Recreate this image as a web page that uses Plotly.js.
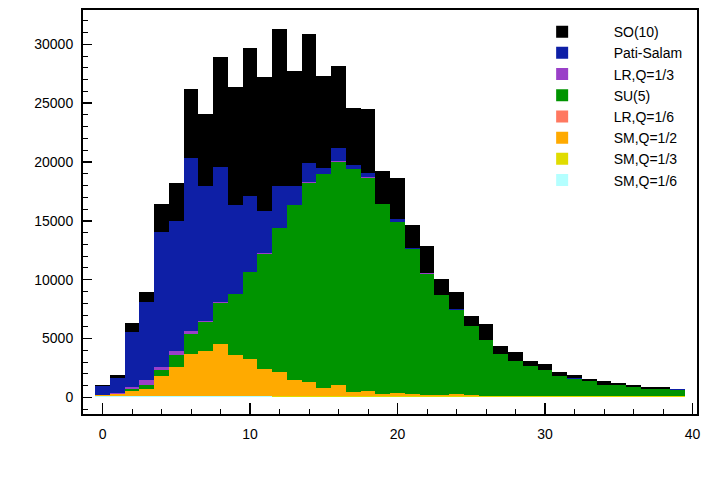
<!DOCTYPE html>
<html>
<head>
<meta charset="utf-8">
<script src="https://cdn.plot.ly/plotly-3.0.1.min.js"></script>
<style>html,body{margin:0;padding:0;background:#fff;}#chart{width:708px;height:500px;}</style>
</head>
<body>
<div id="chart"></div>
<script>
// bin centres 0..39, width 1
const bins = Array.from({length: 40}, (_, i) => i);

const smQ16 = [80,80,80,80,80,80,80,80,80,80,80,80,5,5,5,5,5,5,5,5,5,5,5,5,5,5,5,5,5,5,5,5,5,5,5,5,5,5,5,5];
const smQ13 = [10,10,10,10,10,10,10,10,10,10,10,10,80,80,80,80,80,80,80,80,80,80,80,80,80,80,80,80,80,80,80,80,80,80,80,80,80,80,80,80];
const smQ12 = [110,165,420,650,1750,2490,3590,3815,4410,3535,3195,2345,2065,1355,1220,710,930,395,455,225,310,165,140,115,200,80,55,30,30,30,20,15,10,10,5,5,0,0,0,0];
const lrQ16 = [0,5,10,15,15,15,15,10,10,10,5,5,5,5,5,5,0,0,0,0,0,0,0,0,0,0,0,0,0,0,0,0,0,0,0,0,0,0,0,0];
const su5 = [10,20,170,314,509,1045,1724,2495,3513,5119,7360,9763,12227,14915,16943,18162,19016,18931,18134,16101,14542,12394,10298,8489,7156,5917,4695,3565,2996,2572,2182,1712,1500,1258,983,955,760,630,610,570];
const lrQ13 = [20,100,204,391,229,314,254,60,85,40,30,25,20,15,15,10,10,10,10,5,5,5,5,5,5,5,5,5,5,5,5,5,5,5,5,5,5,5,5,5];
const patiSalam = [773,1272,4669,6622,11427,11002,14687,11452,11487,7516,6422,3625,3571,1598,1635,555,1177,302,388,50,224,48,50,44,32,20,18,14,13,17,16,11,18,10,10,8,18,18,18,18];
const so10 = [20,282,763,908,2377,3259,5831,6146,9312,10050,12563,11351,13329,9763,11000,7755,6963,4891,5405,2749,3454,1986,2270,1362,1518,825,1371,630,690,405,551,292,280,217,302,145,160,109,140,70];

const series = [
  {name: 'SM,Q=1/6', y: smQ16, color: '#b4ffff'},
  {name: 'SM,Q=1/3', y: smQ13, color: '#e0dc00'},
  {name: 'SM,Q=1/2', y: smQ12, color: '#ffaa00'},
  {name: 'LR,Q=1/6', y: lrQ16, color: '#ff7860'},
  {name: 'SU(5)', y: su5, color: '#009400'},
  {name: 'LR,Q=1/3', y: lrQ13, color: '#9a40c8'},
  {name: 'Pati-Salam', y: patiSalam, color: '#0e1fa6'},
  {name: 'SO(10)', y: so10, color: '#000000'}
];

const traces = series.map(s => ({
  type: 'bar', x: bins, y: s.y, name: s.name, width: 1,
  marker: {color: s.color, line: {width: 0}},
  hoverinfo: 'skip'
}));

const font = {family: 'Liberation Sans, Arial, sans-serif', size: 14, color: '#000'};

const layout = {
  width: 708, height: 500,
  margin: {l: 83, r: 10.5, t: 10, b: 85.5},
  paper_bgcolor: '#fff', plot_bgcolor: '#fff',
  barmode: 'stack', bargap: 0,
  font: font,
  showlegend: true,
  legend: {
    x: 0.6965, y: 0.985, xanchor: 'left', yanchor: 'top',
    traceorder: 'reversed', bgcolor: 'rgba(0,0,0,0)', borderwidth: 0,
    font: font, itemwidth: 93, tracegroupgap: 0
  },
  xaxis: {
    range: [-1.33, 40.3], showgrid: false, zeroline: false,
    showline: true, linecolor: '#000', linewidth: 2, mirror: true,
    ticks: 'inside', ticklen: 11, tickwidth: 1.5, tickcolor: '#000',
    dtick: 10, tick0: 0, ticklabelstandoff: 6, tickformat: 'd',
    minor: {dtick: 2, ticks: 'inside', ticklen: 5, tickwidth: 1, tickcolor: '#000', showgrid: false},
    tickfont: font
  },
  yaxis: {
    range: [-1410, 32910], showgrid: false, zeroline: false,
    showline: true, linecolor: '#000', linewidth: 2, mirror: true,
    ticks: 'inside', ticklen: 9, tickwidth: 1.5, tickcolor: '#000',
    dtick: 5000, tick0: 0, ticklabelstandoff: 5, tickformat: 'd',
    minor: {dtick: 1000, ticks: 'inside', ticklen: 5, tickwidth: 1, tickcolor: '#000', showgrid: false},
    tickfont: font
  }
};

Plotly.newPlot('chart', traces, layout, {displayModeBar: false, staticPlot: true});
</script>
</body>
</html>
